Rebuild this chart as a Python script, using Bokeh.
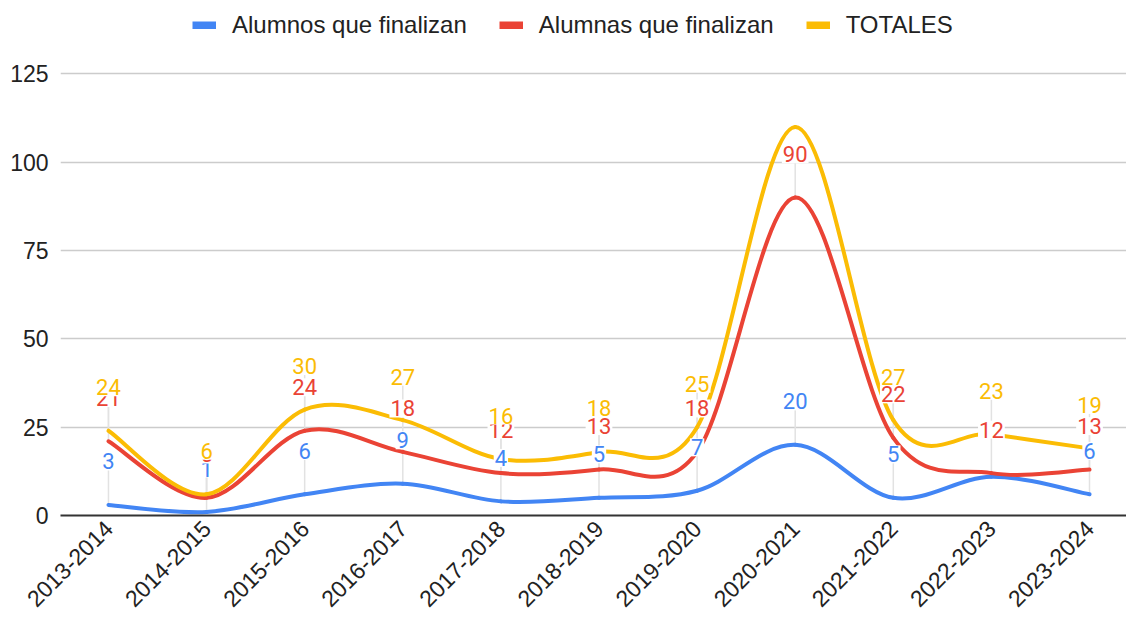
import numpy as np
from bokeh.plotting import figure
from bokeh.models import Range1d, FixedTicker, Legend, LegendItem
from bokeh.core.properties import value
from bokeh.embed import file_html
from bokeh.resources import INLINE

# ---------------- data ----------------
cursos = ["2013-2014", "2014-2015", "2015-2016", "2016-2017", "2017-2018",
          "2018-2019", "2019-2020", "2020-2021", "2021-2022", "2022-2023", "2023-2024"]
alumnos = [3, 1, 6, 9, 4, 5, 7, 20, 5, 11, 6]
alumnas = [21, 5, 24, 18, 12, 13, 18, 90, 22, 12, 13]
totales = [24, 6, 30, 27, 16, 18, 25, 110, 27, 23, 19]
series_names = ["Alumnos que finalizan", "Alumnas que finalizan", "TOTALES"]
series_values = [alumnos, alumnas, totales]
colors = ["#4285F4", "#EA4335", "#FBBC04"]
# data labels that the original chart does not display (index of curso)
hidden_labels = [[9], [], [7]]
y_ticks = [0, 25, 50, 75, 100, 125]

# ---------------- styling constants ----------------
AX_FONT = "Liberation Sans"
LBL_FONT = "Roboto"
LABEL_DY = 12.3   # data units between a point and its label

p = figure(width=1126, height=624, output_backend="svg", toolbar_location=None,
           x_range=Range1d(-0.489, 10.377), y_range=Range1d(0, 145.8),
           min_border_left=60, min_border_right=0, min_border_top=0,
           min_border_bottom=109)
p.outline_line_color = None
p.xgrid.grid_line_color = None
p.ygrid.grid_line_color = "#cccccc"
p.ygrid.grid_line_width = 1.5

p.xaxis.ticker = FixedTicker(ticks=list(range(len(cursos))))
p.xaxis.major_label_overrides = {i: c for i, c in enumerate(cursos)}
p.xaxis.major_label_orientation = np.pi / 4
p.xaxis.major_tick_line_color = None
p.xaxis.major_tick_out = 0
p.xaxis.major_tick_in = 0
p.xaxis.minor_tick_line_color = None
p.xaxis.minor_tick_out = 0
p.xaxis.axis_line_color = "#333333"
p.xaxis.axis_line_width = 2
p.xaxis.major_label_text_font = AX_FONT
p.xaxis.major_label_text_font_size = "23px"
p.xaxis.major_label_text_color = "#222222"
p.xaxis.major_label_standoff = 9

p.yaxis.ticker = FixedTicker(ticks=y_ticks)
p.yaxis.axis_line_color = None
p.yaxis.major_tick_line_color = None
p.yaxis.major_tick_out = 0
p.yaxis.major_tick_in = 0
p.yaxis.minor_tick_line_color = None
p.yaxis.minor_tick_out = 0
p.yaxis.major_label_text_font = AX_FONT
p.yaxis.major_label_text_font_size = "23px"
p.yaxis.major_label_text_color = "#222222"
p.yaxis.major_label_standoff = 12

xs = list(range(len(cursos)))

# leader lines (only for displayed labels)
for vals, hid in zip(series_values, hidden_labels):
    lx = [i for i in xs if i not in hid]
    p.segment(x0=lx, y0=[vals[i] for i in lx], x1=lx,
              y1=[vals[i] + LABEL_DY for i in lx],
              line_color="#e2e2e2", line_width=1.5)

# smooth curves (Catmull-Rom via cubic Bezier)
def bezier_params(vals):
    n = len(vals)
    tx, ty = [], []
    for i in range(n):
        a = max(i - 1, 0)
        b = min(i + 1, n - 1)
        tx.append((b - a) / 2.0)
        ty.append((vals[b] - vals[a]) / 2.0)
    d = dict(x0=[], y0=[], x1=[], y1=[], cx0=[], cy0=[], cx1=[], cy1=[])
    for i in range(n - 1):
        d["x0"].append(i); d["y0"].append(vals[i])
        d["x1"].append(i + 1); d["y1"].append(vals[i + 1])
        d["cx0"].append(i + tx[i] / 3); d["cy0"].append(vals[i] + ty[i] / 3)
        d["cx1"].append(i + 1 - tx[i + 1] / 3); d["cy1"].append(vals[i + 1] - ty[i + 1] / 3)
    return d

for vals, col in zip(series_values, colors):
    d = bezier_params(vals)
    p.bezier(source=d, x0="x0", y0="y0", x1="x1", y1="y1",
             cx0="cx0", cy0="cy0", cx1="cx1", cy1="cy1",
             line_color=col, line_width=4, line_cap="round")

# data labels
for vals, col, hid in zip(series_values, colors, hidden_labels):
    lx = [i for i in xs if i not in hid]
    ly = [vals[i] + LABEL_DY for i in lx]
    lt = [str(vals[i]) for i in lx]
    p.text(x=lx, y=ly, text=lt, text_font=value(LBL_FONT), text_font_size="22px",
           text_color=col, text_align="center", text_baseline="middle",
           background_fill_color="white", padding=1)

# legend (swatch renderers carry no visible data)
items = []
for name, col in zip(series_names, colors):
    r = p.line(x=[0, 1], y=[-1000, -1000], line_color=col, line_width=8,
               line_cap="butt")
    items.append(LegendItem(label=name, renderers=[r]))
legend = Legend(items=items, orientation="horizontal", location=(132, 476),
                glyph_width=24, glyph_height=8, label_standoff=16, spacing=32,
                padding=0, margin=0, border_line_color=None,
                background_fill_alpha=0, label_text_font=AX_FONT,
                label_text_font_size="24px", label_text_color="#222222",
                label_height=24)
p.add_layout(legend, "center")

open("out.html", "w").write(file_html(p, INLINE))
